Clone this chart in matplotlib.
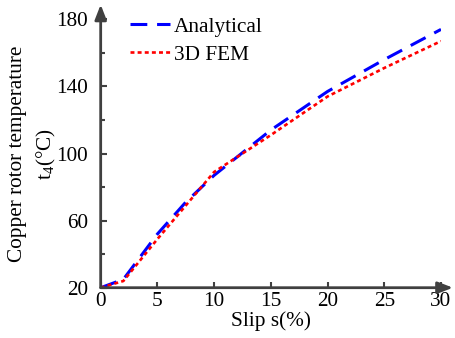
import matplotlib.pyplot as plt
from matplotlib.ticker import MultipleLocator

# slip (%) and copper rotor temperature (degC)
slip_analytical = [0, 2, 5, 7.5, 10, 15, 20, 25, 30]
temp_analytical = [20, 25, 52, 71, 87, 114, 137, 156, 174]
slip_fem = [0, 2, 5, 7.5, 10, 15, 20, 25, 30]
temp_fem = [20, 24, 49, 69, 89, 111, 134, 151, 167]

x_ticks = [0, 5, 10, 15, 20, 25, 30]
y_ticks = [20, 60, 100, 140, 180]

plt.rcParams['font.family'] = ['Liberation Serif', 'DejaVu Serif']
plt.rcParams['mathtext.fontset'] = 'custom'
plt.rcParams['mathtext.rm'] = 'Liberation Serif'

axis_color = '#404040'
fs = 15.3

fig = plt.figure(figsize=(4.56, 3.38), dpi=100)
ax = fig.add_axes([0.2208, 0.1488, 0.7463, 0.794])

ax.plot(slip_analytical, temp_analytical, color='#0000ff', lw=2.2,
        dashes=(5.5, 3.2), label='Analytical')
ax.plot(slip_fem, temp_fem, color='#ff0000', lw=1.9,
        dashes=(1.5, 1.2), label='3D FEM')

ax.set_xlim(0, 30)
ax.set_ylim(20, 180)
ax.set_xticks(x_ticks)
ax.set_yticks(y_ticks)
ax.yaxis.set_minor_locator(MultipleLocator(20))

for s in ax.spines.values():
    s.set_visible(False)

ax.tick_params(axis='both', which='both', direction='in', color=axis_color,
               width=1.5, labelsize=fs, pad=3)
ax.tick_params(axis='x', length=4, bottom=True)
ax.tick_params(axis='y', which='major', length=4, pad=9)
ax.tick_params(axis='y', which='minor', length=3)

# axes drawn as arrows
ax.annotate('', xy=(1.035, 0), xytext=(0, 0), xycoords='axes fraction',
            arrowprops=dict(arrowstyle='-|>,head_length=0.9,head_width=0.35',
                            color=axis_color, lw=2, shrinkA=0, shrinkB=0))
ax.annotate('', xy=(0, 1.055), xytext=(0, 0), xycoords='axes fraction',
            arrowprops=dict(arrowstyle='-|>,head_length=0.9,head_width=0.35',
                            color=axis_color, lw=2, shrinkA=0, shrinkB=0))

ax.set_xlabel('Slip s(%)', fontsize=fs, labelpad=0)
ax.set_ylabel('Copper rotor temperature\nt$_4$(\u00b0C)', fontsize=fs,
              labelpad=-1, linespacing=1.45)

leg = ax.legend(loc='upper left', bbox_to_anchor=(0.086, 1.01), frameon=False,
                fontsize=fs, handlelength=1.9, handletextpad=0.15,
                labelspacing=0.4, borderaxespad=0, borderpad=0)

fig.savefig('out.png', dpi=100)
